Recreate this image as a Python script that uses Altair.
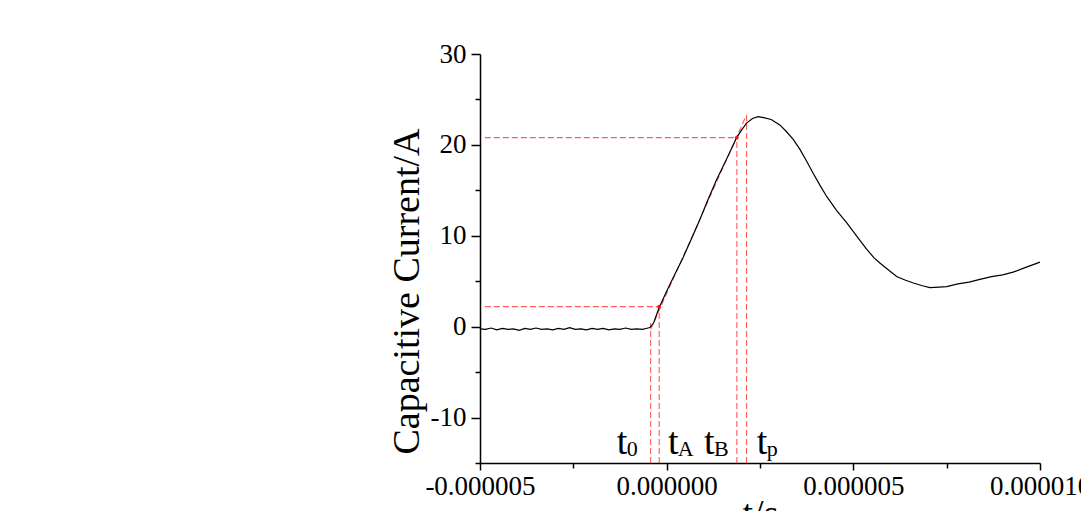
import altair as alt
import pandas as pd

# ---- curve (time in microseconds, current in A) ----
t_us = [-5.0, -4.85, -4.7, -4.55, -4.4, -4.25, -4.1, -3.95, -3.8, -3.65, -3.5,
        -3.35, -3.2, -3.05, -2.9, -2.75, -2.6, -2.45, -2.3, -2.15, -2.0,
        -1.85, -1.7, -1.55, -1.4, -1.25, -1.1, -0.95, -0.8, -0.65, -0.55, -0.45, -0.35,
        -0.2, 0.0, 0.2, 0.45, 0.7, 0.89, 1.1, 1.34, 1.6, 1.875, 2.0, 2.14,
        2.3, 2.45, 2.6, 2.8, 3.03, 3.2, 3.39, 3.57, 3.75, 3.92, 4.1, 4.29,
        4.55, 4.83, 5.1, 5.36, 5.55, 5.71, 5.95, 6.17, 6.4, 6.61, 6.85, 7.05,
        7.3, 7.5, 7.8, 8.1, 8.39, 8.7, 9.0, 9.28, 9.6, 9.8, 10.0]
current = [-0.25, -0.3, -0.15, -0.35, -0.2, -0.3, -0.25, -0.4, -0.2, -0.3, -0.15,
           -0.3, -0.25, -0.35, -0.2, -0.3, -0.1, -0.3, -0.25, -0.35, -0.2,
           -0.3, -0.2, -0.35, -0.25, -0.3, -0.15, -0.3, -0.25, -0.3, -0.2, -0.1, 0.4,
           2.1, 3.9, 5.6, 7.7, 10.0, 11.8, 13.9, 16.2, 18.4, 20.8, 21.6, 22.4,
           22.9, 23.1, 23.0, 22.8, 22.2, 21.5, 20.6, 19.5, 18.2, 16.9, 15.6, 14.3,
           12.8, 11.4, 9.9, 8.5, 7.6, 7.0, 6.2, 5.5, 5.1, 4.8, 4.5, 4.3,
           4.35, 4.4, 4.7, 4.9, 5.2, 5.5, 5.7, 6.0, 6.5, 6.8, 7.1]

# ---- construction guides ----
v_t = [-0.43, -0.2, 1.88, 2.14]
v_top = [0.4, 2.2, 20.8, 23.3]
h_y = [2.2, 20.8]
h_end = [-0.2, 1.88]
h_start = -4.87
diag_t = [-0.43, 2.14]
diag_v = [-0.3, 23.3]
dot_t = [-0.2, 1.88]
dot_v = [2.2, 20.8]

# ---- labels ----
lab_main_t = [-1.34, 0.035, 1.0, 2.41]
lab_sub_t = [-1.07, 0.30, 1.27, 2.68]
lab_sub = ["0", "A", "B", "p"]
lab_main_v = -13.97
lab_sub_v = -14.2

x_major = [-5e-6, 0.0, 5e-6, 1e-5]
x_minor = [-2.5e-6, 2.5e-6, 7.5e-6]
y_major = [-10, 0, 10, 20, 30]
y_minor = [-15, -5, 5, 15, 25]

US = 1e-6
curve_df = pd.DataFrame({"t": [v * US for v in t_us], "i": current})
rules = pd.DataFrame({
    "t": [v * US for v in v_t] + [h_start * US] * len(h_y),
    "t2": [v * US for v in v_t] + [v * US for v in h_end],
    "i": [-15] * len(v_t) + h_y,
    "i2": v_top + h_y,
})
diag_df = pd.DataFrame({"t": [v * US for v in diag_t], "i": diag_v})
dot_df = pd.DataFrame({"t": [v * US for v in dot_t], "i": dot_v})
main_lab = pd.DataFrame({"t": [v * US for v in lab_main_t], "i": [lab_main_v] * 4, "s": ["t"] * 4})
sub_lab = pd.DataFrame({"t": [v * US for v in lab_sub_t], "i": [lab_sub_v] * 4, "s": lab_sub})

FONT = "Liberation Serif"
RED = "#ff5c5c"
xs = alt.Scale(domain=[-5e-6, 1e-5], nice=False, zero=False)
ys = alt.Scale(domain=[-15, 30], nice=False, zero=False)

x_axis = alt.Axis(values=x_major, title="t/s", tickSize=7, labelPadding=3,
                  labelFlush=False, labelOverlap=False,
                  labelExpr="replace(format(datum.value, '.6f'), '\u2212', '-')",
                  titleY=62, titleBaseline="alphabetic", orient="bottom",
                  labelFont=FONT, labelFontSize=27, titleFont=FONT, titleFontSize=38)
y_axis = alt.Axis(values=y_major, title="Capacitive Current/A", tickSize=9,
                  labelPadding=5, labelFlush=False, labelOverlap=False,
                  labelExpr="replace(format(datum.value, 'd'), '\u2212', '-')",
                  titleX=-62, titleY=237, titleAngle=-90,
                  titleAlign="center", titleBaseline="alphabetic", orient="left",
                  labelFont=FONT, labelFontSize=27, titleFont=FONT, titleFontSize=38)

X = alt.X("t:Q", scale=xs, axis=x_axis)
Y = alt.Y("i:Q", scale=ys, axis=y_axis)

line = alt.Chart(curve_df).mark_line(color="black", strokeWidth=1.2).encode(x=X, y=Y)

rule_layer = alt.Chart(rules).mark_rule(color=RED, strokeWidth=1.1,
                                         strokeDash=[6, 3]).encode(
    x=X, x2="t2:Q", y=Y, y2="i2:Q")

diag = alt.Chart(diag_df).mark_line(color=RED, strokeWidth=1.1,
                                    strokeDash=[6, 3]).encode(x=X, y=Y)

dots = alt.Chart(dot_df).mark_circle(color="#ee1111", size=14, opacity=1).encode(x=X, y=Y)

t_text = alt.Chart(main_lab).mark_text(font=FONT, fontSize=38, align="left",
                                       baseline="alphabetic", color="black").encode(
    x=X, y=Y, text="s:N")
s_text = alt.Chart(sub_lab).mark_text(font=FONT, fontSize=22, align="left",
                                      baseline="alphabetic", color="black").encode(
    x=X, y=Y, text="s:N")

main = alt.layer(rule_layer, diag, line, dots, t_text, s_text)

minor = alt.Chart(curve_df).mark_line(opacity=0).encode(
    x=alt.X("t:Q", scale=xs, axis=alt.Axis(values=x_minor, labels=False, tickSize=5,
                                            domain=False, title=None, orient="bottom")),
    y=alt.Y("i:Q", scale=ys, axis=alt.Axis(values=y_minor, labels=False, tickSize=5,
                                            domain=False, title=None, orient="left")),
)

chart = alt.layer(main, minor).resolve_axis(
    x="independent", y="independent"
).properties(
    width=560, height=409,
    autosize=alt.AutoSizeParams(type="none"),
    padding={"left": 472, "top": 46, "right": 41, "bottom": 48},
).configure_view(stroke=None).configure_axis(
    grid=False, labelColor="black", titleFontWeight="normal", titleColor="black",
    domainColor="black", domainWidth=1.5, tickColor="black", tickWidth=1.5,
)

chart.save("out.html", embed_options={"renderer": "svg", "actions": False})
